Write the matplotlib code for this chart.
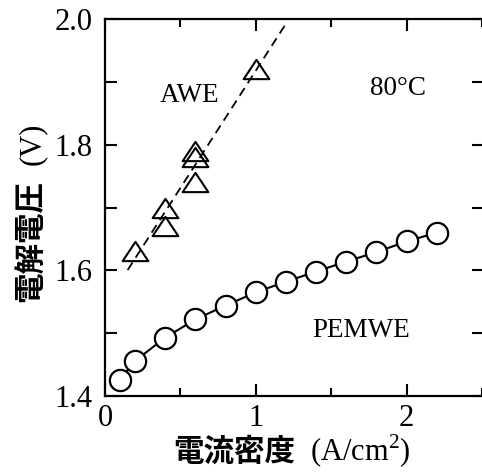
#!/usr/bin/env python
# cell voltage vs current density, AWE vs PEMWE at 80C
import numpy as np
import matplotlib
matplotlib.use('Agg')
import matplotlib.pyplot as plt
from matplotlib.path import Path
from matplotlib.ticker import MultipleLocator, FormatStrFormatter

# AWE (triangles), several cells measured at the same current density
awe_j = [0.2, 0.4, 0.4, 0.6, 0.6, 0.6, 1.0]
awe_v = [1.63, 1.70, 1.67, 1.79, 1.78, 1.74, 1.92]
awe_fit_range = [0.15, 1.2]

# PEMWE (circles)
pem_j = [0.1, 0.2, 0.4, 0.6, 0.8, 1.0, 1.2, 1.4, 1.6, 1.8, 2.0, 2.2]
pem_v = [1.426, 1.456, 1.493, 1.522, 1.544, 1.565, 1.582, 1.598, 1.614, 1.629, 1.646, 1.660]

plt.rcParams['font.family'] = 'Liberation Serif'
plt.rcParams['mathtext.fontset'] = 'custom'
plt.rcParams['mathtext.rm'] = 'Liberation Serif'

fig = plt.figure(figsize=(4.82, 4.73), dpi=100)
# right spine sits just past the image edge, like the original
ax = fig.add_axes([105/482, 77/473, 379/482, 377/473])

# linear fit through the AWE points
slope, icpt = np.polyfit(awe_j, awe_v, 1)
xf = np.array(awe_fit_range)
ax.plot(xf, slope*xf + icpt, color='black', lw=1.3, ls=(0, (5, 3.2)), zorder=2)

# slightly squat open triangle
tri = Path([(-1, -0.75), (1, -0.75), (0, 0.75), (-1, -0.75)], closed=True)
ax.plot(awe_j, awe_v, ls='none', marker=tri, ms=18.5, mfc='none', mec='black', mew=1.5, zorder=3)
ax.plot(pem_j, pem_v, color='black', lw=1.5, marker='o', ms=15.3, mfc='white', mec='black', mew=1.6, zorder=3)

ax.text(0.563, 1.868, 'AWE', fontsize=19.5, ha='center', va='baseline')
ax.text(1.944, 1.879, '80°C', fontsize=19.5, ha='center', va='baseline')
ax.text(1.699, 1.494, 'PEMWE', fontsize=19.5, ha='center', va='baseline')

ax.set_xlim(0, 2.513)
ax.set_ylim(1.4, 2.0)
ax.xaxis.set_major_locator(MultipleLocator(1))
ax.xaxis.set_minor_locator(MultipleLocator(0.5))
ax.yaxis.set_major_locator(MultipleLocator(0.2))
ax.yaxis.set_minor_locator(MultipleLocator(0.1))
ax.yaxis.set_major_formatter(FormatStrFormatter('%.1f'))
ax.tick_params(which='both', direction='in', top=True, right=True, width=1.5, labelsize=22)
ax.tick_params(axis='x', which='major', length=8.6, pad=6)
ax.tick_params(axis='x', which='minor', length=5.5)
ax.tick_params(axis='y', which='both', length=8.6, pad=9)
for s in ax.spines.values():
    s.set_linewidth(1.6)

# axis labels: bold gothic japanese + serif units
jx = fig.text(173/482, 1 - 461/473, '電流密度', family='Noto Sans CJK JP', weight='bold',
              fontsize=22, ha='left', va='baseline')
ax.annotate('(A/cm$^2$)', xy=(1, 1 - 461/473), xycoords=(jx, 'figure fraction'),
            xytext=(11, 0), textcoords='offset points', fontsize=22, ha='left', va='baseline')

jy = fig.text(40/482, 1 - 302/473, '電解電圧', family='Noto Sans CJK JP', weight='bold',
              fontsize=22, rotation=90, rotation_mode='anchor', ha='left', va='baseline')
ax.annotate('(V)', xy=(40/482, 1), xycoords=('figure fraction', jy),
            xytext=(0, 11), textcoords='offset points', fontsize=22,
            rotation=90, rotation_mode='anchor', ha='left', va='baseline')

fig.savefig('out.png', dpi=100)
